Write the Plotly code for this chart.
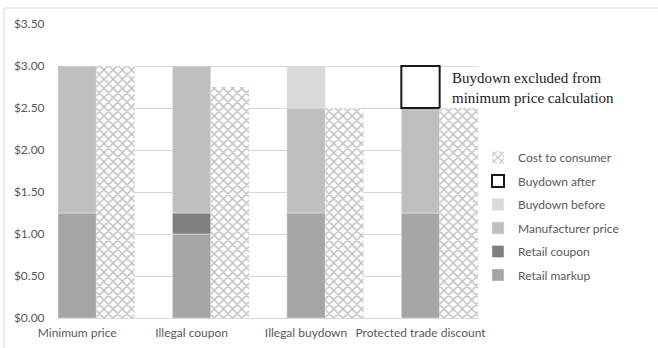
import plotly.graph_objects as go

categories = ["Minimum price", "Illegal coupon", "Illegal buydown", "Protected trade discount"]
retail_markup = [1.25, 1.00, 1.25, 1.25]
retail_coupon = [0.00, 0.25, 0.00, 0.00]
manufacturer_price = [1.75, 1.75, 1.25, 1.25]
buydown_before = [0.00, 0.00, 0.50, 0.00]
buydown_after = [0.00, 0.00, 0.00, 0.50]
cost_to_consumer = [3.00, 2.75, 2.50, 2.50]
y_ticks = [0, 0.5, 1.0, 1.5, 2.0, 2.5, 3.0, 3.5]
y_tick_text = ["${:.2f}".format(v) for v in y_ticks]

stack_series = [
    ("Retail markup", retail_markup, dict(color="#a5a5a5")),
    ("Retail coupon", retail_coupon, dict(color="#7f7f7f")),
    ("Manufacturer price", manufacturer_price, dict(color="#bfbfbf")),
    ("Buydown before", buydown_before, dict(color="#d9d9d9")),
    ("Buydown after", buydown_after, dict(color="white", line=dict(color="#1a1a1a", width=2))),
]

W = 0.335
fig = go.Figure()
base = [0.0] * len(categories)
for i, (name, vals, mk) in enumerate(stack_series):
    keep = [j for j, v in enumerate(vals) if v > 0]
    fig.add_trace(go.Bar(
        x=[categories[j] for j in keep], y=[vals[j] for j in keep], base=[base[j] for j in keep],
        name=name, offset=-W / 2, width=W, marker=mk,
        legendgroup=name, legendrank=100 - i,
    ))
    base = [b + v for b, v in zip(base, vals)]

fig.add_trace(go.Bar(
    x=categories, y=cost_to_consumer, base=[0] * len(categories), name="Cost to consumer",
    offset=W / 2, width=W,
    marker=dict(color="white", line=dict(width=0),
                pattern=dict(shape="x", size=6.5, solidity=0.4, fgcolor="#858585", bgcolor="white")),
    legendgroup="Cost to consumer", legendrank=1,
))

fig.add_annotation(
    x=3, y=2.74, xref="x", yref="y", xanchor="left", yanchor="middle", xshift=W / 2 * 115 + 10,
    text="Buydown excluded from<br>minimum price calculation", showarrow=False, align="left",
    font=dict(family="Liberation Serif", size=15, color="#1a1a1a"),
)

fig.add_shape(type="rect", xref="paper", yref="paper",
              x0=(4 - 58) / 420, x1=(664 - 58) / 420, y0=(318 - 352) / 294, y1=(318 - 8) / 294,
              line=dict(color="#d9d9d9", width=1), fillcolor="rgba(0,0,0,0)", layer="below")

fig.update_layout(
    width=658, height=348,
    margin=dict(l=58, r=180, t=24, b=30, autoexpand=False),
    barmode="overlay",
    plot_bgcolor="white", paper_bgcolor="white",
    font=dict(family="Lato", size=12, color="#595959"),
    showlegend=True,
    legend=dict(xref="paper", yref="paper", x=(478 - 58) / 420, y=(318 - 143) / 294,
                xanchor="left", yanchor="top", traceorder="grouped", tracegroupgap=4.5,
                font=dict(family="Lato", size=12, color="#595959"), bgcolor="rgba(0,0,0,0)"),
    xaxis=dict(type="category", range=[-W / 2, 3 + 1.5 * W], showgrid=False, tickangle=0,
               showline=True, linecolor="#d9d9d9", linewidth=1,
               ticks="outside", ticklen=4, tickcolor="rgba(0,0,0,0)", tickfont=dict(size=12)),
    yaxis=dict(range=[0, 3.5], tickvals=y_ticks, ticktext=y_tick_text,
               showgrid=True, gridcolor="#d9d9d9", gridwidth=1, zeroline=False,
               ticks="outside", ticklen=10, tickcolor="rgba(0,0,0,0)", tickfont=dict(size=12)),
)

fig.write_html("out.html")
